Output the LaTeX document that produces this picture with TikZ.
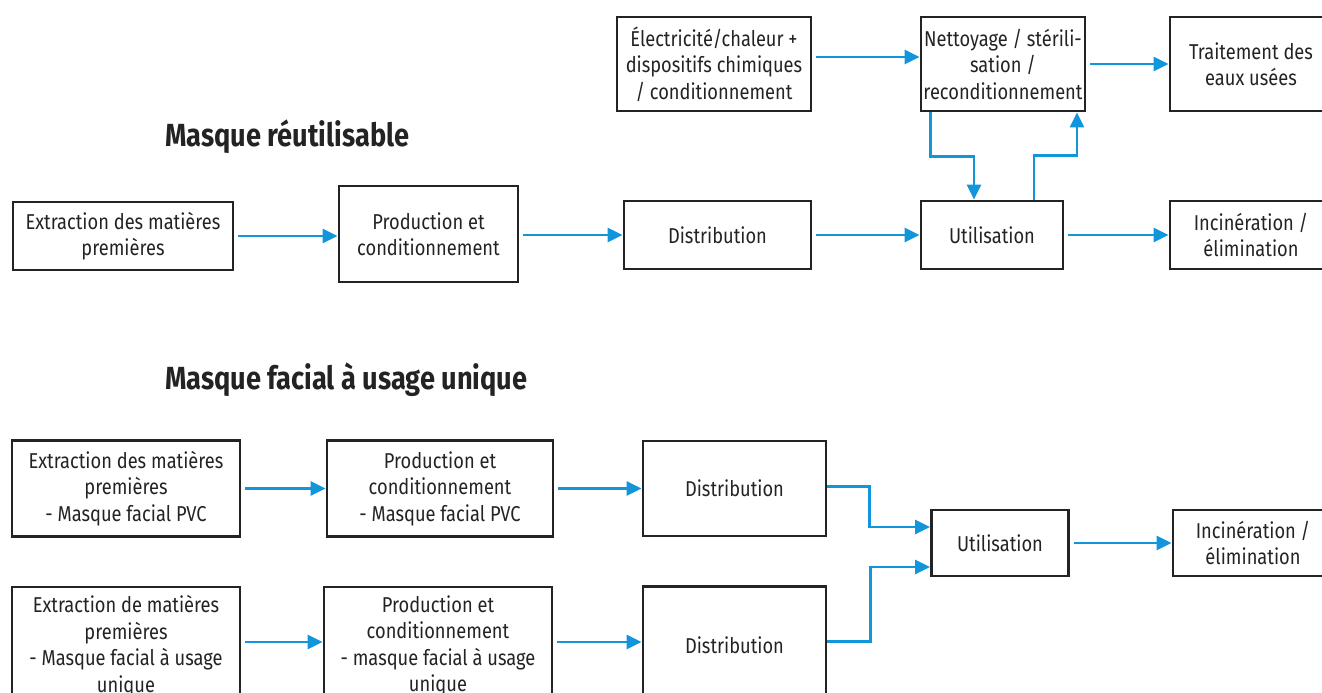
\documentclass[tikz,border=0pt]{standalone}
\usepackage{fontspec}
\setmainfont{Fira Sans}[FakeStretch=0.85]
\usepackage{xcolor}
\definecolor{mybleu}{RGB}{18,150,219}
\definecolor{mynoir}{RGB}{35,35,35}
\usepackage{tikz}
\usetikzlibrary{arrows.meta}

\begin{document}
\begin{tikzpicture}[x=1pt,y=-1pt,line join=miter]
	\tikzstyle{boite}=[draw=mynoir,line width=2.8pt,align=center,inner sep=1pt,font=\fontsize{21.5}{26.5}\selectfont,text=mynoir];
	\tikzstyle{fleche}=[mybleu,line width=2.8pt,-{Triangle[length=15pt,width=14pt]},shorten <=4pt];
	\tikzstyle{titre}=[anchor=west,inner sep=0pt,font=\fontsize{32}{36}\selectfont\bfseries,text=mynoir];
	\useasboundingbox (0,0) rectangle (1322,693);
	% masque reutilisable
	\node[titre] (t1) at (165,137) {Masque réutilisable};
	\node[boite,minimum width=220pt,minimum height=68pt] (ext)   at (123,236)    {Extraction des matières\\premières};
	\node[boite,minimum width=179pt,minimum height=96pt] (prod)  at (428.5,234)  {Production et\\conditionnement};
	\node[boite,minimum width=187pt,minimum height=68pt] (dist)  at (717.5,235)  {Distribution};
	\node[boite,minimum width=142pt,minimum height=68pt] (util)  at (992,235)    {Utilisation};
	\node[boite,minimum width=162pt,minimum height=68pt] (inc)   at (1251,235)   {Incinération /\\élimination};
	\node[boite,minimum width=194pt,minimum height=94pt] (elec)  at (714,64)     {Électricité/chaleur +\\dispositifs chimiques\\/ conditionnement};
	\node[boite,minimum width=164pt,minimum height=94pt] (nett)  at (1003,64)    {Nettoyage / stérili-\\sation /\\reconditionnement};
	\node[boite,minimum width=162pt,minimum height=94pt] (trait) at (1251,64)    {Traitement des\\eaux usées};
	\draw[fleche] (ext.east) -- (ext.east -| prod.west);
	\draw[fleche] (prod.east |- dist.west) -- (dist.west);
	\draw[fleche] (dist) -- (util);
	\draw[fleche] (util) -- (inc);
	\draw[fleche] ([yshift=7pt]elec.east) -- ([yshift=7pt]nett.west);
	\draw[fleche] (nett) -- (trait);
	\draw[fleche,shorten <=0pt] ([xshift=11pt]nett.south west) -- ++(0,44) -| ([xshift=-18pt]util.north);
	\draw[fleche,shorten <=0pt] ([xshift=42pt]util.north) -- ++(0,-44) -| ([xshift=74pt]nett.south);
	% masque a usage unique
	\node[titre] (t2) at (165,380) {Masque facial à usage unique};
	\node[boite,minimum width=228pt,minimum height=96pt]  (ext1)  at (126,488.5)  {Extraction des matières\\premières\\- Masque facial PVC};
	\node[boite,minimum width=226pt,minimum height=96pt]  (prod1) at (440,488.5)  {Production et\\conditionnement\\- Masque facial PVC};
	\node[boite,minimum width=183pt,minimum height=95pt]  (dist1) at (734.5,488.5) {Distribution};
	\node[boite,minimum width=228pt,minimum height=118pt] (ext2)  at (126,646)    {Extraction de matières\\premières\\- Masque facial à usage\\unique};
	\node[boite,minimum width=228pt,minimum height=118pt] (prod2) at (438,646)    {Production et\\conditionnement\\- masque facial à usage\\unique};
	\node[boite,minimum width=183pt,minimum height=118pt] (dist2) at (734.5,645.5) {Distribution};
	\node[boite,minimum width=137pt,minimum height=66pt]  (util2) at (1000,543)   {Utilisation};
	\node[boite,minimum width=160pt,minimum height=66pt]  (inc2)  at (1253,543)   {Incinération /\\élimination};
	\draw[fleche] (ext1) -- (prod1);
	\draw[fleche] ([yshift=4pt]ext2.east) -- ([yshift=4pt]ext2.east -| prod2.west);
	\draw[fleche] (prod1) -- (dist1);
	\draw[fleche] ([yshift=4pt]prod2.east) -- ([yshift=4pt]prod2.east -| dist2.west);
	\draw[fleche,shorten <=0pt] ([yshift=2pt]dist1.east) -- ++(42,0) |- ([yshift=16pt]util2.west);
	\draw[fleche,shorten <=0pt] ([yshift=4pt]dist2.east) -- ++(43,0) |- ([yshift=-24pt]util2.west);
	\draw[fleche] (util2) -- (inc2);
\end{tikzpicture}
\end{document}
